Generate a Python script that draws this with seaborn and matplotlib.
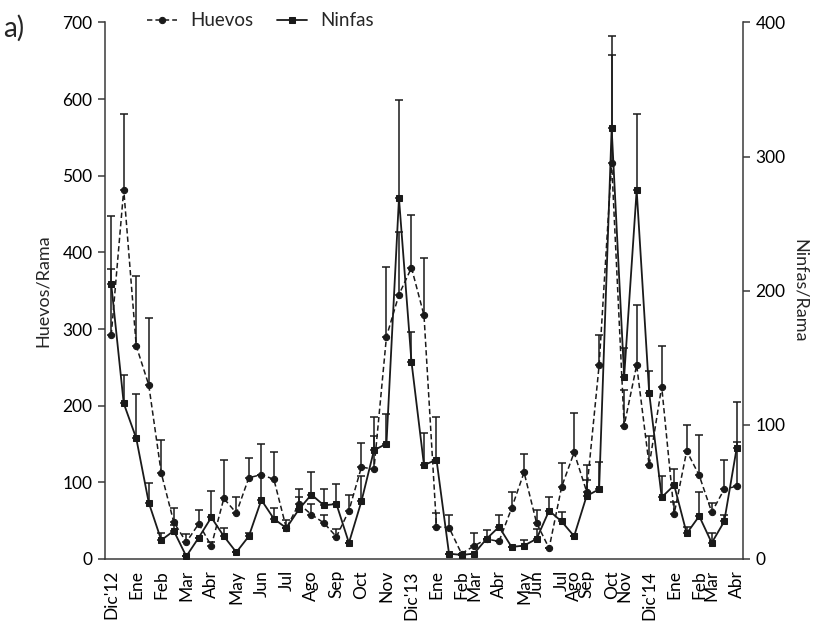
import numpy as np
import pandas as pd
import matplotlib
matplotlib.use("Agg")
import matplotlib.pyplot as plt
import seaborn as sns

# sampling index (half-month steps), Dic'12 .. Abr'15
muestreo = list(range(51))

huevos = [292, 482, 278, 227, 112, 48, 22, 46, 17, 79, 60, 106, 110, 104, 40, 72, 58, 47, 29, 63,
          120, 117, 290, 345, 380, 318, 42, 41, 7, 17, 26, 23, 66, 113, 47, 14, 94, 139, 88, 253,
          517, 174, 253, 122, 225, 59, 141, 109, 61, 91, 95]
huevos_se = [155, 99, 91, 88, 43, 19, 10, 18, 5, 50, 21, 26, 0, 35, 11, 19, 14, 10, 10, 21,
             31, 44, 91, 81, 69, 75, 18, 16, 0, 17, 12, 0, 21, 24, 17, 0, 31, 51, 15, 39,
             141, 46, 78, 39, 53, 16, 34, 53, 12, 38, 57]

ninfas = [205, 116, 90, 42, 14, 21, 2, 16, 31, 17, 5, 17, 44, 30, 23, 37, 48, 40, 41, 12,
          43, 81, 86, 269, 147, 70, 74, 4, 3, 4, 15, 24, 9, 10, 15, 36, 28, 17, 47, 52,
          321, 136, 275, 124, 46, 55, 19, 32, 12, 28, 83]
ninfas_se = [11, 21, 33, 15, 5, 4, 0, 0, 20, 6, 0, 2, 42, 8, 0, 9, 17, 12, 15, 0,
             19, 25, 22, 73, 22, 24, 32, 0, 0, 0, 0, 9, 0, 4, 7, 10, 7, 0, 23, 20,
             69, 21, 57, 16, 16, 12, 5, 18, 7, 5, 34]

tick_pos = [0, 2, 4, 6, 8, 10, 12, 14, 16, 18, 20, 22, 24, 26, 28, 29, 31, 33, 34, 36,
            37, 38, 40, 41, 43, 45, 47, 48, 50]
tick_lab = ["Dic'12", "Ene", "Feb", "Mar", "Abr", "May", "Jun", "Jul", "Ago", "Sep", "Oct", "Nov",
            "Dic'13", "Ene", "Feb", "Mar", "Abr", "May", "Jun", "Jul", "Ago", "Sep", "Oct", "Nov",
            "Dic'14", "Ene", "Feb", "Mar", "Abr"]

df = pd.DataFrame({"x": muestreo, "huevos": huevos, "huevos_se": huevos_se,
                   "ninfas": ninfas, "ninfas_se": ninfas_se})

sns.set_theme(style="white")
plt.rcParams["font.family"] = ["Lato", "DejaVu Sans"]

fig = plt.figure(figsize=(8.22, 6.28), dpi=100)
ax = fig.add_axes([0.1277, 0.1099, 0.7762, 0.8543])
ax2 = ax.twinx()

ink = "#1a1a1a"
axis_col = "#3a3a3a"

# Huevos (left axis)
ax.errorbar(df["x"], df["huevos"], yerr=[np.zeros(len(df)), df["huevos_se"]], fmt="none",
            ecolor=ink, elinewidth=1.1, capsize=3.2, capthick=1.1, zorder=2)
sns.lineplot(data=df, x="x", y="huevos", ax=ax, color=ink, linestyle=(0, (3.5, 2)),
             linewidth=1.1, marker="o", markersize=4.5, markeredgecolor=ink,
             label="Huevos", legend=False, zorder=3)

# Ninfas (right axis)
ax2.errorbar(df["x"], df["ninfas"], yerr=[np.zeros(len(df)), df["ninfas_se"]], fmt="none",
             ecolor=ink, elinewidth=1.1, capsize=3.2, capthick=1.1, zorder=2)
sns.lineplot(data=df, x="x", y="ninfas", ax=ax2, color=ink, linewidth=1.3,
             marker="s", markersize=5, markeredgecolor=ink,
             label="Ninfas", legend=False, zorder=3)

ax.set_xlim(-0.5, 50.5)
ax.set_ylim(0, 700)
ax2.set_ylim(0, 400)
ax.set_yticks(range(0, 701, 100))
ax2.set_yticks(range(0, 401, 100))
ax.set_xticks(tick_pos)
ax.set_xticklabels(tick_lab, rotation=90, fontsize=12.5)

ax.set_xlabel("")
ax.set_ylabel("Huevos/Rama", fontsize=13, labelpad=8)
ax2.set_ylabel("Ninfas/Rama", fontsize=13, rotation=270, labelpad=16)

for a in (ax, ax2):
    a.spines["top"].set_visible(False)
    for s in a.spines.values():
        s.set_color(axis_col)
        s.set_linewidth(1.1)
    a.tick_params(axis="both", which="both", direction="out", length=5, width=1.1,
                  color=axis_col, labelsize=12.5, labelcolor="black")
ax.spines["right"].set_visible(False)
ax2.spines["left"].set_visible(False)
ax2.spines["bottom"].set_visible(False)
ax.tick_params(axis="x", length=5, pad=3)
ax.tick_params(axis="y", left=True, pad=4)
ax2.tick_params(axis="y", right=True, pad=4)

h1, l1 = ax.get_legend_handles_labels()
h2, l2 = ax2.get_legend_handles_labels()
fig.legend(h1 + h2, l1 + l2, loc="center left", bbox_to_anchor=(0.158, 0.967), ncol=2,
           frameon=False, fontsize=13.5, handlelength=1.6, columnspacing=1.3, handletextpad=0.7)

fig.text(0.004, 0.955, "a)", fontsize=20, ha="left", va="center")

fig.savefig("out.png", dpi=100)
plt.close(fig)
